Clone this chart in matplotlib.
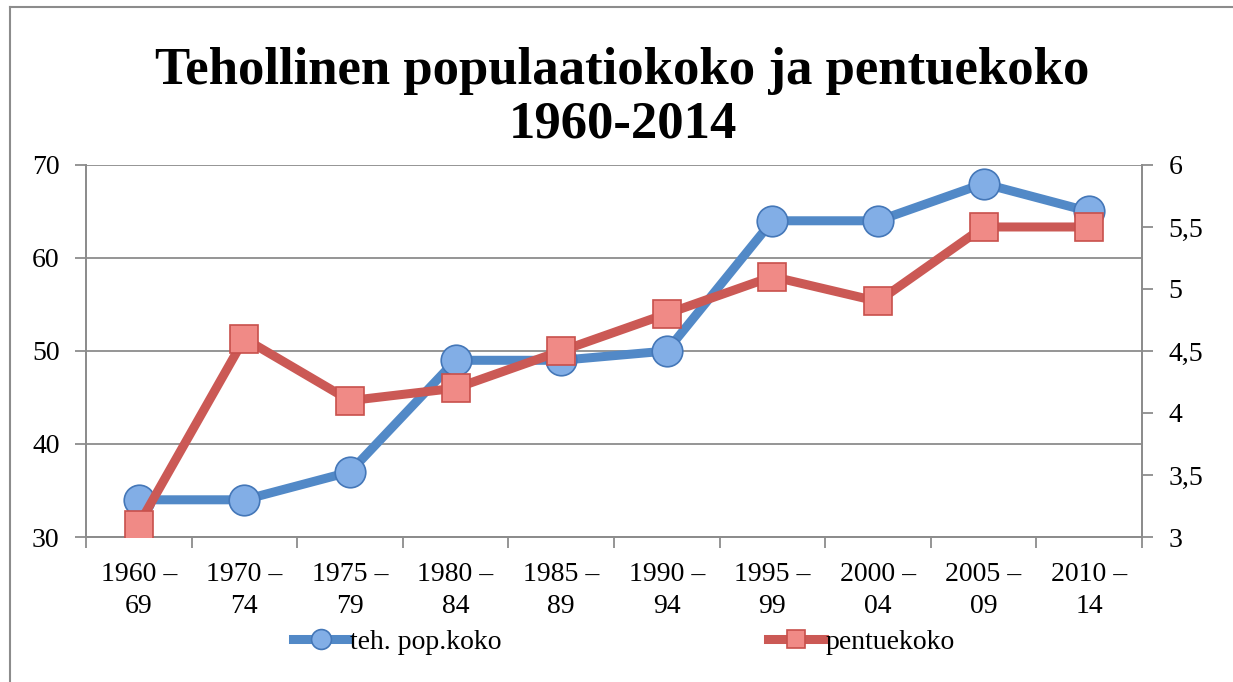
import matplotlib
matplotlib.use("Agg")
import matplotlib.pyplot as plt
from matplotlib.lines import Line2D
from matplotlib.ticker import FuncFormatter, MultipleLocator, FixedLocator

# data
periods = ["1960 –\n69", "1970 –\n74", "1975 –\n79", "1980 –\n84", "1985 –\n89",
           "1990 –\n94", "1995 –\n99", "2000 –\n04", "2005 –\n09", "2010 –\n14"]
pop_size = [34, 34, 37, 49, 49, 50, 64, 64, 68, 65]
litter_size = [3.1, 4.6, 4.1, 4.2, 4.5, 4.8, 5.1, 4.9, 5.5, 5.5]

plt.rcParams['font.family'] = ['Liberation Serif', 'DejaVu Serif']

GRAY = '#8c8c8c'
BLUE = '#5289C7'
RED = '#CB5955'

fig = plt.figure(figsize=(12.33, 6.82), dpi=100)
ax = fig.add_axes([0.0697, 0.2126, 0.9262 - 0.0697, 0.7581 - 0.2126])
ax2 = ax.twinx()

x = list(range(len(periods)))

ax.plot(x, pop_size, color=BLUE, lw=6.5, marker='o', markersize=22,
        markerfacecolor='#82AEE6', markeredgecolor='#4477B8', markeredgewidth=1.2,
        label='teh. pop.koko', solid_joinstyle='round', zorder=3)
ax2.plot(x, litter_size, color=RED, lw=6.5, marker='s', markersize=20.5,
         markerfacecolor='#F08A86', markeredgecolor='#C8504C', markeredgewidth=1.2,
         label='pentuekoko', solid_joinstyle='round', zorder=3)

ax.set_xlim(-0.5, len(periods) - 0.5)
ax.set_ylim(30, 70)
ax2.set_ylim(3, 6)
ax.yaxis.set_major_locator(MultipleLocator(10))
ax2.yaxis.set_major_locator(MultipleLocator(0.5))
ax2.yaxis.set_major_formatter(FuncFormatter(
    lambda v, p: ('%g' % v).replace('.', ',')))

ax.set_xticks(x)
ax.set_xticklabels(periods, fontsize=20, linespacing=1.35)
ax.xaxis.set_minor_locator(FixedLocator([i - 0.5 for i in range(len(periods) + 1)]))
ax.tick_params(axis='x', which='major', length=0, pad=18)
ax.tick_params(axis='x', which='minor', length=8, width=1.3, color=GRAY)
ax.tick_params(axis='y', length=8, width=1.3, color=GRAY, labelsize=20, pad=11)
ax2.tick_params(axis='y', length=8, width=1.3, color=GRAY, labelsize=20, pad=11)

ax.grid(axis='y', color=GRAY, lw=1.3)
ax.set_axisbelow(True)
for a in (ax, ax2):
    for s in a.spines.values():
        s.set_color(GRAY)
        s.set_linewidth(1.3)
    a.spines['top'].set_visible(False)

# title
fig.text(0.505, 0.857, "Tehollinen populaatiokoko ja pentuekoko\n1960-2014",
         ha='center', va='center', fontsize=38, fontweight='bold', linespacing=1.15)

# legend below the chart
h1, l1 = ax.get_legend_handles_labels()
h2, l2 = ax2.get_legend_handles_labels()
leg = fig.legend(h1 + h2, l1 + l2, loc='center', bbox_to_anchor=(0.506, 0.058),
                 ncol=2, frameon=False, fontsize=20, handlelength=2.0,
                 handletextpad=0.05, columnspacing=9.6, markerscale=0.65)

# outer chart frame (only top and left edges are visible)
fig.add_artist(Line2D([10 / 1233, 10 / 1233], [0, 1 - 7 / 682], transform=fig.transFigure,
                      color=GRAY, lw=1.5))
fig.add_artist(Line2D([10 / 1233, 1], [1 - 7 / 682, 1 - 7 / 682], transform=fig.transFigure,
                      color=GRAY, lw=1.5))

fig.savefig('out.png', dpi=100)
